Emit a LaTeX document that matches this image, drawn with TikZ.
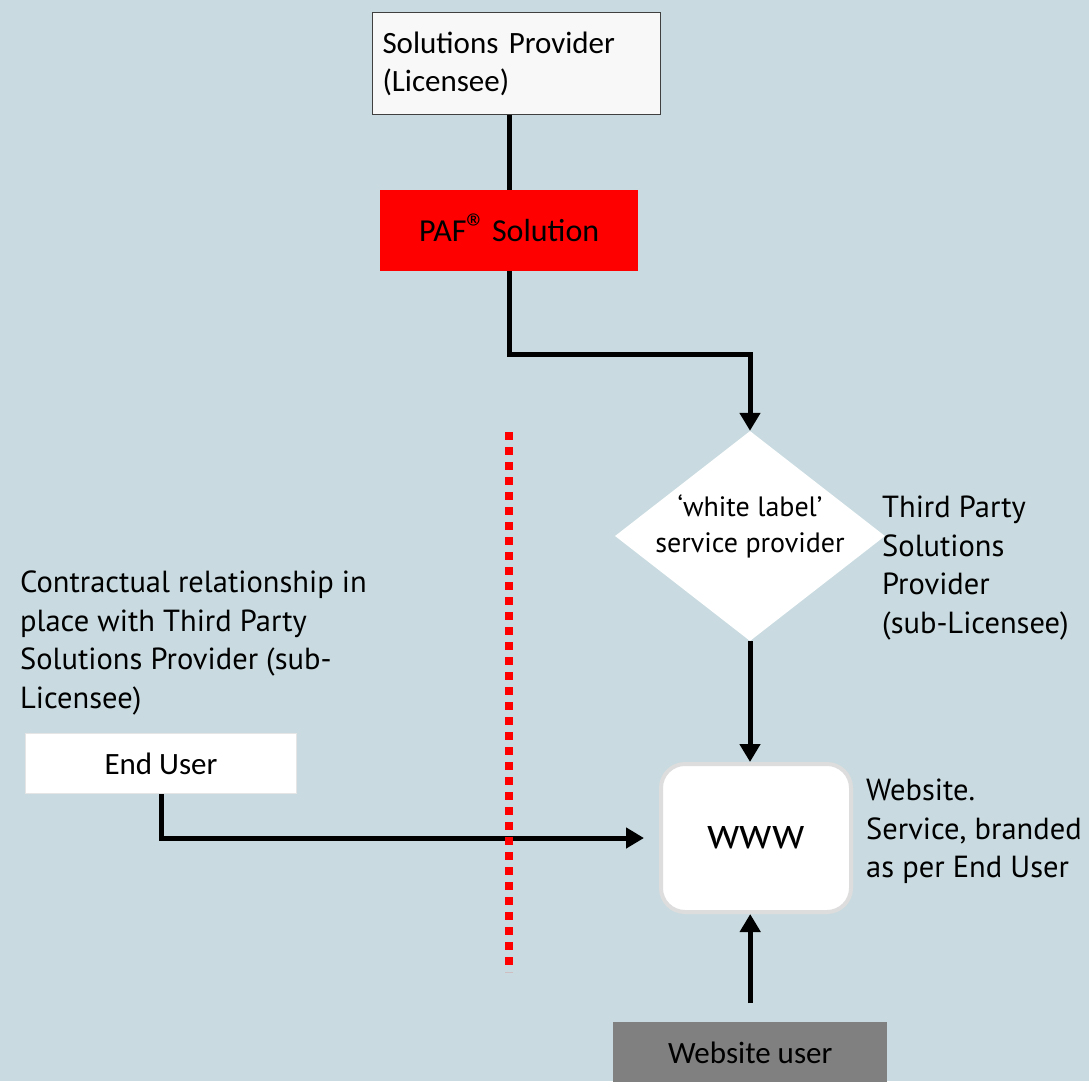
\documentclass[tikz,border=0pt]{standalone}
\usepackage{fontspec}
\setmainfont{Carlito}
\newfontfamily\annfont{PT Sans}
\usetikzlibrary{shapes.geometric,arrows.meta}
\definecolor{bg}{RGB}{201,219,224}
\definecolor{boxgray}{RGB}{128,128,128}
\definecolor{topfill}{RGB}{248,248,248}
\definecolor{wwwborder}{RGB}{221,221,221}
\begin{document}
\begin{tikzpicture}[x=1pt,y=-1pt,
  conn/.style={line width=5pt,black},
  arr/.style={conn,-{Triangle[length=18pt,width=20pt]}},
  boxtext/.style={font=\fontsize{31}{38}\selectfont},
  anntext/.style={font=\annfont\fontsize{30.5}{38.5}\selectfont,align=left,anchor=north west,inner sep=0pt}]
\fill[bg] (0,0) rectangle (1089,1081);
\useasboundingbox (0,0) rectangle (1089,1081);
% top box
\node[draw=black!75,line width=1pt,fill=topfill,minimum width=288pt,minimum height=102pt,anchor=north west,
  text width=268pt,align=left,inner xsep=10pt,boxtext] (sp) at (372,12) {Solutions Provider\\(Licensee)};
% PAF
\node[fill=red,minimum width=258pt,minimum height=81pt,anchor=north west,font=\fontsize{32}{38}\selectfont] (paf) at (380,190) {PAF\smash{\fontsize{40}{40}\selectfont ®}\hspace{-2pt} Solution};
\draw[conn] (sp.south -| paf.south) -- (paf.north);
% diamond
\node[diamond,fill=white,minimum width=270pt,minimum height=210pt,inner sep=0pt] (wl) at (750,536) {};
\node[align=center,font=\annfont\fontsize{28}{36}\selectfont,inner sep=0pt] (wltext) at (750,526) {‘white label’\\service provider};
\draw[arr] (paf.south) -- ++(0,83) -| (wl.north);
% www
\node[draw=wwwborder,line width=4pt,fill=white,rounded corners=24pt,minimum width=190pt,minimum height=148pt,
  font=\annfont\fontsize{44}{44}\selectfont] (www) at (756,838) {\raisebox{-6pt}{www}};
\draw[arr] (wl.south) -- (wl.south |- www.north);
% website user
\node[fill=boxgray,minimum width=274pt,minimum height=62pt,anchor=north west,boxtext] (wu) at (613,1022) {Website user};
\draw[arr,shorten <=19pt] (wu.north) -- (wu.north |- www.south);
% end user
\node[fill=white,draw=white!90!black,line width=1pt,minimum width=271pt,minimum height=60pt,anchor=north west,boxtext] (eu) at (25,733) {End User};
\draw[arr,shorten >=15pt] (eu.south) |- (www.west);
% red dotted line
\coordinate (dtop) at (509,432);
\coordinate (dbot) at (509,972);
\draw[red,line width=8pt,dash pattern=on 8pt off 7pt] (dtop) -- (dbot);
% annotations
\node[anntext] (tp) at (882,496) {Third Party\\Solutions\\Provider\\(sub-Licensee)};
\node[anntext] (ws) at (866,779) {Website.\\Service, branded\\as per End User};
\node[anntext] (cr) at (20,571) {Contractual relationship in\\place with Third Party\\Solutions Provider (sub-\\Licensee)};
\end{tikzpicture}
\end{document}
